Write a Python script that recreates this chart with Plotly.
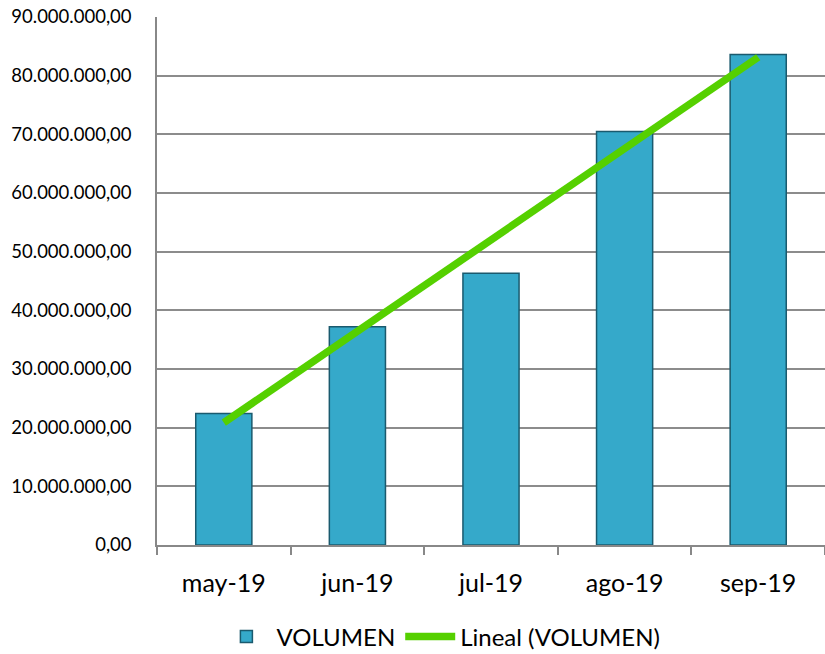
import numpy as np
import plotly.graph_objects as go

categories = ["may-19", "jun-19", "jul-19", "ago-19", "sep-19"]
volumen = [22400000, 37200000, 46300000, 70500000, 83600000]

x_idx = np.arange(1, len(volumen) + 1)
slope, intercept = np.polyfit(x_idx, volumen, 1)
trend = slope * x_idx + intercept

fig = go.Figure()
fig.add_trace(go.Bar(
    x=categories, y=volumen, name="VOLUMEN",
    marker=dict(color="#35A9CA", line=dict(color="#1A5A6E", width=1.5)),
    width=0.42,
))
fig.add_trace(go.Scatter(
    x=categories, y=trend, name="Lineal (VOLUMEN)", mode="lines",
    line=dict(color="#55D000", width=7.5),
))

fig.update_layout(
    width=825, height=654,
    margin=dict(l=157, r=0, t=17, b=109, autoexpand=False),
    plot_bgcolor="white", paper_bgcolor="white",
    separators=",.",
    font=dict(family="Lato, Open Sans, sans-serif", color="#000000"),
    showlegend=True,
    legend=dict(orientation="h", x=0.425, xanchor="center", y=-0.174, yanchor="middle",
                font=dict(size=24), itemwidth=50, traceorder="normal"),
)
fig.update_xaxes(
    showline=True, linecolor="#888888", linewidth=1.5,
    ticks="outside", ticklen=8, tickcolor="#888888", tickwidth=1.5,
    tickson="boundaries", tickfont=dict(size=25), showgrid=False,
    ticklabelstandoff=15, automargin=False,
)
fig.update_yaxes(
    range=[0, 90000000], dtick=10000000, tickformat=",.2f",
    showgrid=True, gridcolor="#8C8C8C", gridwidth=1.5,
    showline=True, linecolor="#888888", linewidth=1.5,
    ticks="", ticklabelstandoff=20, ticklabeloverflow="allow",
    tickfont=dict(size=18.5), zeroline=False, automargin=False,
)
fig.write_html(
    "out.html",
    config={"displayModeBar": False},
    post_script="document.body.style.margin='0px'; document.body.style.overflow='hidden';",
)
